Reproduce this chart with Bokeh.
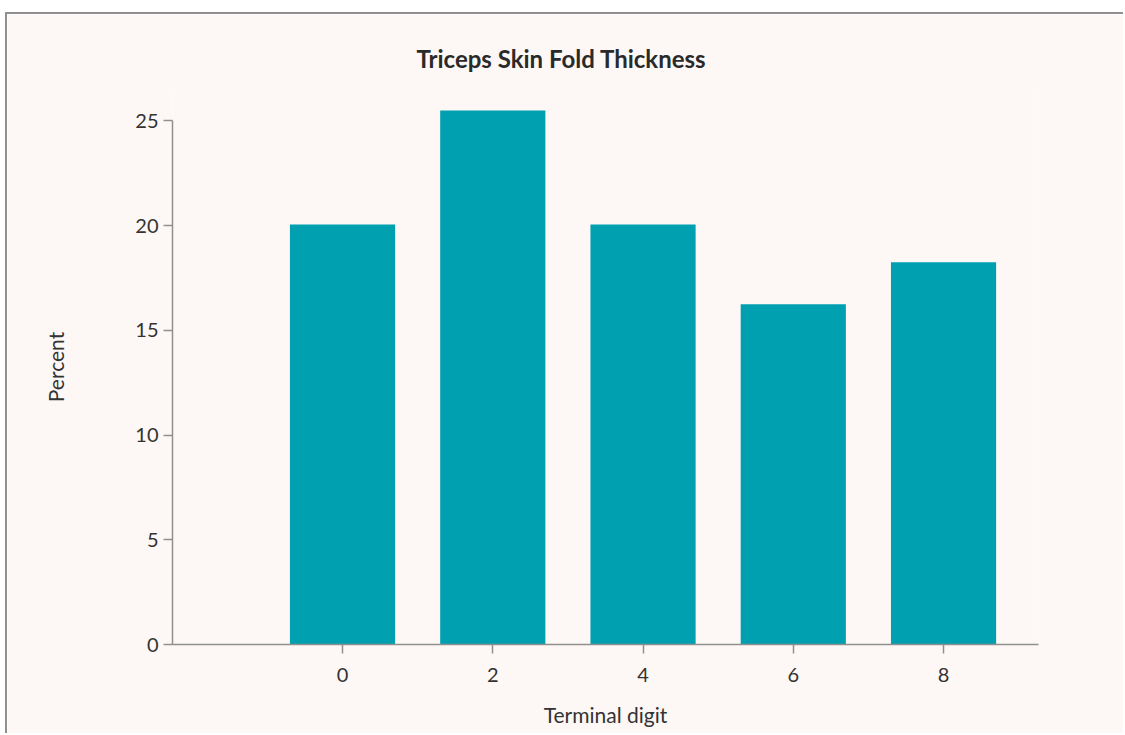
from bokeh.plotting import figure
from bokeh.models import Range1d, FixedTicker
from bokeh.embed import file_html
from bokeh.resources import INLINE

# Data
digits = [0, 2, 4, 6, 8]
percent = [20.05, 25.5, 20.05, 16.25, 18.25]
y_ticks = [0, 5, 10, 15, 20, 25]

BG = "#fdf8f5"
BAR = "#00a0b0"
AXIS = "#8f8f8f"
TEXT = "#333333"
FONT = "Lato"

p = figure(width=1118, height=721, output_backend="svg", toolbar_location=None,
           x_range=Range1d(-2.263, 9.264), y_range=Range1d(0, 26.5),
           title="Triceps Skin Fold Thickness",
           min_border_left=165, min_border_right=87, min_border_top=75, min_border_bottom=91)

p.background_fill_color = BG
p.border_fill_color = BG
p.outline_line_color = None
p.grid.visible = False

p.vbar(x=digits, top=percent, width=1.4, bottom=0, fill_color=BAR, line_color=None)

p.title.align = "left"
p.title.offset = 244
p.title.text_font = FONT
p.title.text_font_size = "24px"
p.title.text_font_style = "bold"
p.title.text_color = "#2a2a2a"
p.title.standoff = 34

for ax in (p.xaxis[0], p.yaxis[0]):
    ax.axis_line_color = AXIS
    ax.axis_line_width = 1.5
    ax.major_tick_line_color = AXIS
    ax.major_tick_line_width = 1.5
    ax.major_tick_in = 0
    ax.major_tick_out = 9
    ax.minor_tick_line_color = None
    ax.major_label_text_font = FONT
    ax.major_label_text_font_size = "20px"
    ax.major_label_text_color = TEXT
    ax.axis_label_text_font = FONT
    ax.axis_label_text_font_size = "21px"
    ax.axis_label_text_font_style = "normal"
    ax.axis_label_text_color = TEXT

p.xaxis.ticker = FixedTicker(ticks=digits)
p.xaxis.axis_label = "Terminal digit"
p.xaxis.major_label_standoff = 14
p.xaxis.axis_label_standoff = 17

p.yaxis.ticker = FixedTicker(ticks=y_ticks)
p.yaxis.bounds = (0, 25)
p.yaxis.axis_label = "Percent"
p.yaxis.major_label_standoff = 5
p.yaxis.axis_label_standoff = 64

p.styles = {"border-left": "2px solid #8f8f8f", "border-top": "2px solid #8f8f8f",
            "margin-left": "5px", "margin-top": "12px"}

open("out.html", "w").write(file_html(p, INLINE))
